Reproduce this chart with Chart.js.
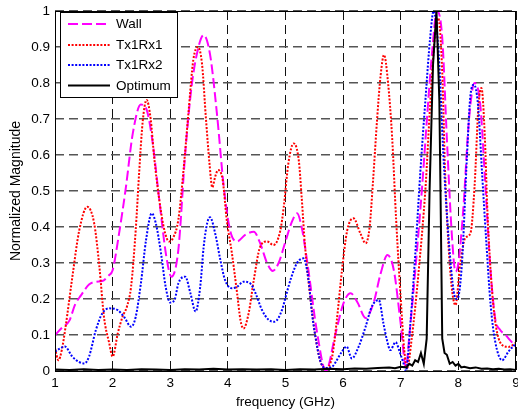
<!DOCTYPE html>
<html><head><meta charset="utf-8">
<script src="https://cdn.jsdelivr.net/npm/chart.js@4"></script>
<style>html,body{margin:0;padding:0;background:#fff;}</style>
</head><body>
<canvas id="c" width="518" height="414"></canvas>
<script>
const xTicks = [1,2,3,4,5,6,7,8,9];
const yTicks = [0,0.1,0.2,0.3,0.4,0.5,0.6,0.7,0.8,0.9,1];
const yTickLabels = ['0','0.1','0.2','0.3','0.4','0.5','0.6','0.7','0.8','0.9','1'];
const seriesNames = ['Wall','Tx1Rx1','Tx1Rx2','Optimum'];
const xTitle = 'frequency (GHz)';
const yTitle = 'Normalized Magnitude';

const wallX = [1.0,1.12,1.25,1.35,1.45,1.59,1.72,1.82,1.93,2.0,2.11,2.23,2.35,2.49,2.58,2.69,2.81,2.93,3.02,3.14,3.26,3.37,3.49,3.58,3.69,3.81,3.93,4.04,4.16,4.30,4.45,4.56,4.68,4.78,4.88,5.0,5.1,5.2,5.28,5.38,5.55,5.70,5.87,6.01,6.13,6.25,6.39,6.53,6.65,6.77,6.88,7.0,7.09,7.15,7.25,7.37,7.45,7.54,7.63,7.72,7.80,7.89,7.95,8.0,8.09,8.18,8.28,8.38,8.47,8.56,8.64,8.72,8.82,8.9,9.0];
const wallY = [0.10,0.12,0.14,0.185,0.21,0.24,0.248,0.25,0.265,0.28,0.38,0.51,0.66,0.74,0.73,0.64,0.475,0.32,0.262,0.336,0.605,0.79,0.90,0.933,0.88,0.715,0.51,0.39,0.36,0.378,0.387,0.355,0.30,0.278,0.30,0.36,0.41,0.438,0.40,0.30,0.105,0.0,0.105,0.19,0.216,0.19,0.147,0.19,0.27,0.322,0.28,0.13,0.01,0.10,0.276,0.51,0.69,0.878,1.0,0.925,0.647,0.37,0.276,0.30,0.46,0.69,0.80,0.74,0.51,0.276,0.145,0.115,0.10,0.085,0.067];

const rx1X = [1.0,1.06,1.12,1.19,1.30,1.42,1.56,1.68,1.77,1.85,1.94,2.0,2.09,2.17,2.25,2.32,2.40,2.46,2.52,2.59,2.66,2.72,2.81,2.90,2.98,3.05,3.14,3.23,3.32,3.40,3.48,3.55,3.62,3.68,3.73,3.78,3.83,3.91,3.98,4.07,4.16,4.22,4.27,4.36,4.45,4.56,4.68,4.79,4.91,4.97,5.05,5.14,5.23,5.28,5.34,5.43,5.52,5.60,5.69,5.81,5.89,5.98,6.07,6.18,6.30,6.39,6.46,6.52,6.59,6.65,6.71,6.78,6.85,6.92,7.0,7.06,7.11,7.19,7.31,7.43,7.51,7.59,7.65,7.72,7.77,7.86,7.95,8.03,8.12,8.21,8.28,8.35,8.40,8.46,8.50,8.56,8.64,8.76,8.87,9.0];
const rx1Y = [0.063,0.03,0.06,0.13,0.26,0.39,0.456,0.41,0.29,0.15,0.078,0.04,0.105,0.15,0.18,0.234,0.39,0.55,0.69,0.753,0.70,0.595,0.475,0.39,0.36,0.37,0.42,0.558,0.725,0.864,0.90,0.855,0.70,0.578,0.51,0.54,0.558,0.53,0.42,0.327,0.216,0.14,0.118,0.16,0.253,0.345,0.36,0.35,0.39,0.456,0.577,0.632,0.586,0.484,0.345,0.206,0.095,0.03,0.008,0.04,0.14,0.28,0.39,0.424,0.382,0.355,0.40,0.53,0.70,0.82,0.878,0.80,0.65,0.42,0.2,0.06,0.008,0.09,0.276,0.51,0.74,0.925,0.98,0.83,0.55,0.276,0.183,0.294,0.37,0.383,0.51,0.74,0.786,0.647,0.46,0.276,0.137,0.072,0.067,0.078];

const rx2X = [1.0,1.08,1.17,1.30,1.42,1.51,1.59,1.71,1.82,1.94,2.09,2.20,2.32,2.40,2.49,2.58,2.68,2.75,2.84,2.92,3.0,3.08,3.14,3.26,3.35,3.44,3.52,3.58,3.64,3.69,3.78,3.87,3.95,4.07,4.16,4.27,4.39,4.48,4.59,4.71,4.81,4.94,5.02,5.10,5.20,5.31,5.40,5.46,5.52,5.60,5.69,5.81,5.89,5.98,6.06,6.15,6.27,6.39,6.50,6.62,6.70,6.76,6.82,6.91,6.99,7.05,7.09,7.17,7.25,7.34,7.43,7.51,7.57,7.66,7.74,7.83,7.92,7.98,8.06,8.15,8.21,8.27,8.34,8.41,8.48,8.56,8.64,8.76,8.87,9.0];
const rx2Y = [0.054,0.062,0.068,0.04,0.025,0.021,0.04,0.114,0.16,0.174,0.169,0.15,0.123,0.15,0.243,0.364,0.438,0.41,0.327,0.234,0.19,0.20,0.243,0.262,0.216,0.165,0.234,0.345,0.41,0.427,0.382,0.308,0.253,0.23,0.234,0.248,0.243,0.216,0.17,0.142,0.137,0.17,0.216,0.26,0.30,0.313,0.253,0.16,0.095,0.03,0.008,0.012,0.03,0.054,0.068,0.035,0.068,0.123,0.18,0.197,0.132,0.086,0.058,0.08,0.049,0.02,0.0,0.137,0.32,0.553,0.757,0.925,1.0,0.878,0.6,0.37,0.22,0.2,0.294,0.6,0.767,0.795,0.74,0.553,0.37,0.183,0.081,0.03,0.054,0.077];

const optX = [1.0,1.25,1.5,1.75,2.0,2.25,2.5,2.75,3.0,3.25,3.5,3.75,4.0,4.25,4.5,4.75,5.0,5.25,5.5,5.75,6.0,6.2,6.4,6.6,6.8,6.9,7.0,7.1,7.15,7.2,7.25,7.3,7.35,7.4,7.45,7.50,7.56,7.62,7.67,7.69,7.72,7.76,7.8,7.85,7.9,7.95,8.0,8.05,8.1,8.2,8.3,8.4,8.5,8.6,8.7,8.8,8.9,9.0];
const optY = [0.004,0.003,0.005,0.003,0.004,0.003,0.005,0.004,0.003,0.005,0.004,0.006,0.004,0.005,0.004,0.005,0.003,0.005,0.004,0.006,0.005,0.007,0.006,0.008,0.01,0.008,0.012,0.01,0.02,0.015,0.03,0.025,0.05,0.02,0.09,0.5,0.85,1.0,0.75,0.5,0.09,0.05,0.045,0.02,0.025,0.015,0.02,0.01,0.012,0.008,0.01,0.006,0.007,0.005,0.006,0.004,0.005,0.003];

const FONT = "'Liberation Sans', Arial, sans-serif";
const pts = (xs, ys) => xs.map((x, i) => ({x: x, y: ys[i]}));

const styles = [
  {color:'#ff00ff', dash:[10,4], width:2},
  {color:'#ff0000', dash:[2,1.6], width:2},
  {color:'#0000ff', dash:[2,1.6], width:2},
  {color:'#000000', dash:[], width:2}
];
const allData = [pts(wallX,wallY), pts(rx1X,rx1Y), pts(rx2X,rx2Y), pts(optX,optY)];

const frameLegend = {
  id: 'frameLegend',
  afterDraw(chart) {
    const ctx = chart.ctx, a = chart.chartArea;
    ctx.save();
    ctx.strokeStyle = '#000'; ctx.lineWidth = 1; ctx.setLineDash([]);
    ctx.strokeRect(Math.round(a.left) + 0.5, Math.round(a.top) + 0.5, Math.round(a.right - a.left) - 1, Math.round(a.bottom - a.top));
    const bx = 60.5, by = 12.5, bw = 117, bh = 85;
    ctx.fillStyle = '#fff';
    ctx.fillRect(bx, by, bw, bh);
    ctx.strokeRect(bx, by, bw, bh);
    const rows = [24, 45, 65, 85.5];
    ctx.font = '13.5px ' + FONT;
    ctx.textBaseline = 'middle';
    ctx.textAlign = 'left';
    seriesNames.forEach((name, i) => {
      const st = styles[i];
      ctx.beginPath();
      ctx.strokeStyle = st.color; ctx.lineWidth = st.width; ctx.setLineDash(st.dash);
      ctx.moveTo(68, rows[i]); ctx.lineTo(110, rows[i]); ctx.stroke();
      ctx.setLineDash([]);
      ctx.fillStyle = '#000';
      ctx.fillText(name, 116, rows[i] + 0.5);
    });
    ctx.restore();
  }
};

new Chart(document.getElementById('c'), {
  type: 'line',
  data: {
    datasets: seriesNames.map((name, i) => ({
      label: name,
      data: allData[i],
      borderColor: styles[i].color,
      borderDash: styles[i].dash,
      borderWidth: styles[i].width,
      pointRadius: 0,
      fill: false,
      tension: i === 3 ? 0 : 0.4,
      cubicInterpolationMode: i === 3 ? 'default' : 'monotone',
      order: 4 - i
    }))
  },
  options: {
    responsive: false,
    animation: false,
    devicePixelRatio: 1,
    layout: {padding: {left: 0, right: 2, top: 11, bottom: 0}},
    plugins: {legend: {display: false}, tooltip: {enabled: false}},
    scales: {
      x: {
        type: 'linear', min: 1, max: 9,
        afterBuildTicks: s => { s.ticks = xTicks.map(v => ({value: v})); },
        afterFit: s => { s.height = 43; s.paddingLeft = 0; s.paddingRight = 0; },
        ticks: {color: '#000', font: {family: FONT, size: 13.5}, padding: 4, maxRotation: 0,
                callback: v => String(v)},
        grid: {color: '#111', lineWidth: 1, drawTicks: false},
        border: {display: false, dash: [9,5]},
        title: {display: true, text: xTitle, color: '#000', font: {family: FONT, size: 13.5}, padding: {top: 0, bottom: 4}}
      },
      y: {
        type: 'linear', min: 0, max: 1,
        afterBuildTicks: s => { s.ticks = yTicks.map(v => ({value: v})); },
        afterFit: s => { s.width = 55; s.paddingTop = 0; s.paddingBottom = 0; },
        ticks: {color: '#000', font: {family: FONT, size: 13.5}, padding: 5,
                callback: (v, i) => yTickLabels[i]},
        grid: {color: '#555', lineWidth: 1.5, drawTicks: false},
        border: {display: false, dash: [9,5]},
        title: {display: true, text: yTitle, color: '#000', font: {family: FONT, size: 14}, padding: {top: 8, bottom: 0}}
      }
    }
  },
  plugins: [frameLegend]
});
</script>
</body></html>
